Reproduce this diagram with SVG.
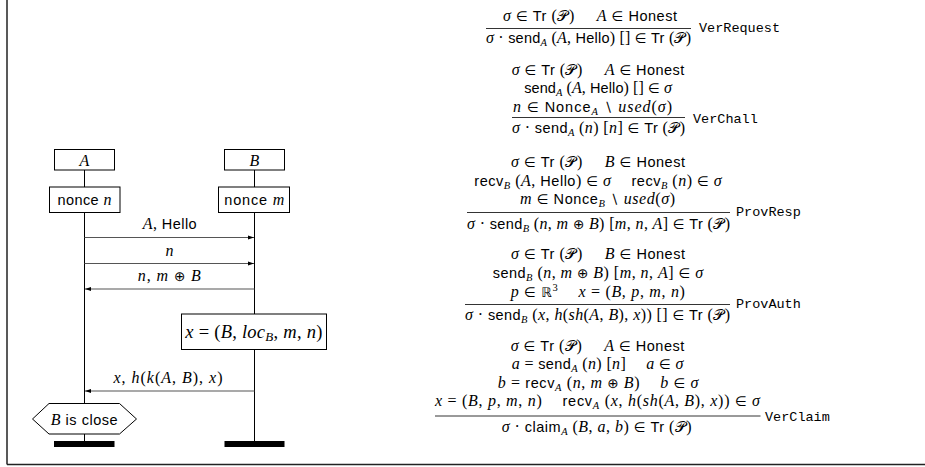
<svg xmlns="http://www.w3.org/2000/svg" width="925" height="467" viewBox="0 0 925 467">
<style>
text{font-family:"Liberation Serif","DejaVu Serif",serif;font-size:16px;fill:#000}
.c{text-anchor:middle}
.i{font-style:italic}
.s{font-family:"Liberation Sans","DejaVu Sans",sans-serif;font-style:normal;font-size:14.5px}
.y{font-family:"DejaVu Sans",sans-serif;font-size:13.5px;font-style:normal}
.p{font-family:"DejaVu Sans","Noto Sans",serif;font-style:normal;font-size:15px}
.sub{font-size:10.5px}
.lbl{font-family:"Liberation Mono",monospace;font-size:13.5px}
.big{font-size:18.5px}
.big .sub{font-size:13px}
.rule{stroke:#000;stroke-width:0.8}
.box{fill:#fff;stroke:#000;stroke-width:1}
.life{stroke:#000;stroke-width:1;fill:none}
.msg{stroke:#555;stroke-width:1.2;fill:none}
.bar{fill:#000}
</style>
<defs>
<marker id="ah" markerWidth="6" markerHeight="6" refX="6" refY="3" orient="auto" markerUnits="userSpaceOnUse">
<path d="M0,1 L6,3 L0,5 Z" fill="#000"/>
</marker>
</defs>

<g id="frame">
<line x1="7" y1="0" x2="7" y2="464.5" stroke="#222" stroke-width="1.5"/>
<line x1="7" y1="464.5" x2="925" y2="464.5" stroke="#222" stroke-width="1.5"/>
</g>

<g id="lifelines">
<line class="life" x1="84.5" y1="170" x2="84.5" y2="187"/>
<line class="life" x1="84.5" y1="212.5" x2="84.5" y2="403.5"/>
<line class="life" x1="84.5" y1="434" x2="84.5" y2="441"/>
<line class="life" x1="254.5" y1="170" x2="254.5" y2="187"/>
<line class="life" x1="254.5" y1="212.5" x2="254.5" y2="314"/>
<line class="life" x1="254.5" y1="349.5" x2="254.5" y2="441"/>
</g>

<g id="nodeA">
<rect class="box" x="54.5" y="149.5" width="60" height="20.5"/>
<text class="c i" x="84.5" y="165.5">A</text>
</g>
<g id="nodeB">
<rect class="box" x="224.5" y="149.5" width="60" height="20.5"/>
<text class="c i" x="254.5" y="165.5">B</text>
</g>
<g id="nonceN">
<rect class="box" x="49.5" y="187" width="70.5" height="25.5"/>
<text class="c" x="84.5" y="205" textLength="54"><tspan class="s">nonce</tspan> <tspan class="i">n</tspan></text>
</g>
<g id="nonceM">
<rect class="box" x="218.5" y="187" width="71" height="25.5"/>
<text class="c" x="254.3" y="205" textLength="60"><tspan class="s">nonce</tspan> <tspan class="i">m</tspan></text>
</g>
<g id="xdef">
<rect class="box" x="181.5" y="314" width="145" height="35.5"/>
<text class="c big" x="253.8" y="337.5" textLength="137"><tspan class="i">x</tspan> = (<tspan class="i">B</tspan>, <tspan class="i">loc</tspan><tspan class="i sub" dy="3.5">B</tspan><tspan dy="-3.5">, </tspan><tspan class="i">m</tspan>, <tspan class="i">n</tspan>)</text>
</g>
<g id="close">
<polygon class="box" points="32.5,419 49,403.5 119.5,403.5 136.5,419 119.5,434 49,434"/>
<text class="c" x="84.2" y="424.5" textLength="67"><tspan class="i">B</tspan> <tspan class="s">is close</tspan></text>
</g>
<g id="endA"><rect class="bar" x="54" y="441" width="60.5" height="6"/></g>
<g id="endB"><rect class="bar" x="224.5" y="441" width="60" height="6"/></g>

<g id="connectors">
<line class="msg" x1="84.5" y1="237.5" x2="254" y2="237.5" marker-end="url(#ah)"/>
<line class="msg" x1="84.5" y1="263.5" x2="254" y2="263.5" marker-end="url(#ah)"/>
<line class="msg" x1="254.5" y1="289" x2="85" y2="289" marker-end="url(#ah)"/>
<line class="msg" x1="254.5" y1="391" x2="85" y2="391" marker-end="url(#ah)"/>
<text class="c" x="169.7" y="229" textLength="54"><tspan class="i">A</tspan>, <tspan class="s">Hello</tspan></text>
<text class="c i" x="169.5" y="255.5">n</text>
<text class="c" x="169.3" y="281" textLength="63"><tspan class="i">n</tspan>, <tspan class="i">m</tspan> <tspan class="y">⊕</tspan> <tspan class="i">B</tspan></text>
<text class="c" x="168" y="383" textLength="109"><tspan class="i">x</tspan>, <tspan class="i">h</tspan>(<tspan class="i">k</tspan>(<tspan class="i">A</tspan>, <tspan class="i">B</tspan>), <tspan class="i">x</tspan>)</text>
</g>

<g id="ruleVerRequest">
<text class="c" x="590" y="21" textLength="174"><tspan class="i">σ</tspan> <tspan class="y">∈</tspan> <tspan class="s">Tr</tspan> (<tspan class="p">𝒫</tspan>)<tspan class="i" dx="22">A</tspan> <tspan class="y">∈</tspan> <tspan class="s">Honest</tspan></text>
<line class="rule" x1="486" y1="28.5" x2="691" y2="28.5"/>
<text class="c" x="588.5" y="43" textLength="205"><tspan class="i">σ</tspan> · <tspan class="s">send</tspan><tspan class="i sub" dy="3">A</tspan><tspan dy="-3"> (</tspan><tspan class="i">A</tspan>, <tspan class="s">Hello</tspan>) [] <tspan class="y">∈</tspan> <tspan class="s">Tr</tspan> (<tspan class="p">𝒫</tspan>)</text>
<text class="lbl" x="699" y="32">VerRequest</text>
</g>

<g id="ruleVerChall">
<text class="c" x="598" y="74.5" textLength="172.6"><tspan class="i">σ</tspan> <tspan class="y">∈</tspan> <tspan class="s">Tr</tspan> (<tspan class="p">𝒫</tspan>)<tspan class="i" dx="22">A</tspan> <tspan class="y">∈</tspan> <tspan class="s">Honest</tspan></text>
<text class="c" x="598" y="93" textLength="147.7"><tspan class="s">send</tspan><tspan class="i sub" dy="3">A</tspan><tspan dy="-3"> (</tspan><tspan class="i">A</tspan>, <tspan class="s">Hello</tspan>) [] <tspan class="y">∈</tspan> <tspan class="i">σ</tspan></text>
<text class="c" x="592.5" y="111.5" textLength="159"><tspan class="i">n</tspan> <tspan class="y">∈</tspan> <tspan class="s">Nonce</tspan><tspan class="i sub" dy="3">A</tspan><tspan dy="-3"> </tspan><tspan class="y">∖</tspan> <tspan class="i">used</tspan>(<tspan class="i">σ</tspan>)</text>
<line class="rule" x1="512" y1="117.5" x2="685" y2="117.5"/>
<text class="c" x="598.5" y="133" textLength="173"><tspan class="i">σ</tspan> · <tspan class="s">send</tspan><tspan class="i sub" dy="3">A</tspan><tspan dy="-3"> (</tspan><tspan class="i">n</tspan>) [<tspan class="i">n</tspan>] <tspan class="y">∈</tspan> <tspan class="s">Tr</tspan> (<tspan class="p">𝒫</tspan>)</text>
<text class="lbl" x="693" y="123">VerChall</text>
</g>

<g id="ruleProvResp">
<text class="c" x="598" y="166.5" textLength="174"><tspan class="i">σ</tspan> <tspan class="y">∈</tspan> <tspan class="s">Tr</tspan> (<tspan class="p">𝒫</tspan>)<tspan class="i" dx="22">B</tspan> <tspan class="y">∈</tspan> <tspan class="s">Honest</tspan></text>
<text class="c" x="598" y="185.5" textLength="247.4"><tspan class="s">recv</tspan><tspan class="i sub" dy="3">B</tspan><tspan dy="-3"> (</tspan><tspan class="i">A</tspan>, <tspan class="s">Hello</tspan>) <tspan class="y">∈</tspan> <tspan class="i">σ</tspan><tspan class="s" dx="20">recv</tspan><tspan class="i sub" dy="3">B</tspan><tspan dy="-3"> (</tspan><tspan class="i">n</tspan>) <tspan class="y">∈</tspan> <tspan class="i">σ</tspan></text>
<text class="c" x="597.5" y="204" textLength="155"><tspan class="i">m</tspan> <tspan class="y">∈</tspan> <tspan class="s">Nonce</tspan><tspan class="i sub" dy="3">B</tspan><tspan dy="-3"> </tspan><tspan class="y">∖</tspan> <tspan class="i">used</tspan>(<tspan class="i">σ</tspan>)</text>
<line class="rule" x1="467" y1="212.5" x2="730" y2="212.5"/>
<text class="c" x="598.5" y="228.5" textLength="263"><tspan class="i">σ</tspan> · <tspan class="s">send</tspan><tspan class="i sub" dy="3">B</tspan><tspan dy="-3"> (</tspan><tspan class="i">n</tspan>, <tspan class="i">m</tspan> <tspan class="y">⊕</tspan> <tspan class="i">B</tspan>) [<tspan class="i">m</tspan>, <tspan class="i">n</tspan>, <tspan class="i">A</tspan>] <tspan class="y">∈</tspan> <tspan class="s">Tr</tspan> (<tspan class="p">𝒫</tspan>)</text>
<text class="lbl" x="736" y="216">ProvResp</text>
</g>

<g id="ruleProvAuth">
<text class="c" x="598" y="258.5" textLength="174"><tspan class="i">σ</tspan> <tspan class="y">∈</tspan> <tspan class="s">Tr</tspan> (<tspan class="p">𝒫</tspan>)<tspan class="i" dx="22">B</tspan> <tspan class="y">∈</tspan> <tspan class="s">Honest</tspan></text>
<text class="c" x="597.9" y="277.5" textLength="210.3"><tspan class="s">send</tspan><tspan class="i sub" dy="3">B</tspan><tspan dy="-3"> (</tspan><tspan class="i">n</tspan>, <tspan class="i">m</tspan> <tspan class="y">⊕</tspan> <tspan class="i">B</tspan>) [<tspan class="i">m</tspan>, <tspan class="i">n</tspan>, <tspan class="i">A</tspan>] <tspan class="y">∈</tspan> <tspan class="i">σ</tspan></text>
<text class="c" x="597.8" y="297" textLength="174.3"><tspan class="i">p</tspan> <tspan class="y">∈</tspan> <tspan class="y">ℝ</tspan><tspan class="sub" dy="-6">3</tspan><tspan class="i" dx="20" dy="6">x</tspan> = (<tspan class="i">B</tspan>, <tspan class="i">p</tspan>, <tspan class="i">m</tspan>, <tspan class="i">n</tspan>)</text>
<line class="rule" x1="465" y1="304.5" x2="730" y2="304.5"/>
<text class="c" x="597.5" y="320" textLength="265"><tspan class="i">σ</tspan> · <tspan class="s">send</tspan><tspan class="i sub" dy="3">B</tspan><tspan dy="-3"> (</tspan><tspan class="i">x</tspan>, <tspan class="i">h</tspan>(<tspan class="i">sh</tspan>(<tspan class="i">A</tspan>, <tspan class="i">B</tspan>), <tspan class="i">x</tspan>)) [] <tspan class="y">∈</tspan> <tspan class="s">Tr</tspan> (<tspan class="p">𝒫</tspan>)</text>
<text class="lbl" x="736" y="307.5">ProvAuth</text>
</g>

<g id="ruleVerClaim">
<text class="c" x="597.5" y="350.5" textLength="173.6"><tspan class="i">σ</tspan> <tspan class="y">∈</tspan> <tspan class="s">Tr</tspan> (<tspan class="p">𝒫</tspan>)<tspan class="i" dx="22">A</tspan> <tspan class="y">∈</tspan> <tspan class="s">Honest</tspan></text>
<text class="c" x="597.5" y="369" textLength="171.6"><tspan class="i">a</tspan> = <tspan class="s">send</tspan><tspan class="i sub" dy="3">A</tspan><tspan dy="-3"> (</tspan><tspan class="i">n</tspan>) [<tspan class="i">n</tspan>]<tspan class="i" dx="20">a</tspan> <tspan class="y">∈</tspan> <tspan class="i">σ</tspan></text>
<text class="c" x="598" y="387.5" textLength="200.6"><tspan class="i">b</tspan> = <tspan class="s">recv</tspan><tspan class="i sub" dy="3">A</tspan><tspan dy="-3"> (</tspan><tspan class="i">n</tspan>, <tspan class="i">m</tspan> <tspan class="y">⊕</tspan> <tspan class="i">B</tspan>)<tspan class="i" dx="20">b</tspan> <tspan class="y">∈</tspan> <tspan class="i">σ</tspan></text>
<text class="c" x="597.5" y="406" textLength="325"><tspan class="i">x</tspan> = (<tspan class="i">B</tspan>, <tspan class="i">p</tspan>, <tspan class="i">m</tspan>, <tspan class="i">n</tspan>)<tspan class="s" dx="20">recv</tspan><tspan class="i sub" dy="3">A</tspan><tspan dy="-3"> (</tspan><tspan class="i">x</tspan>, <tspan class="i">h</tspan>(<tspan class="i">sh</tspan>(<tspan class="i">A</tspan>, <tspan class="i">B</tspan>), <tspan class="i">x</tspan>)) <tspan class="y">∈</tspan> <tspan class="i">σ</tspan></text>
<line class="rule" x1="435" y1="416" x2="760.5" y2="416"/>
<text class="c" x="596.7" y="431.5" textLength="190"><tspan class="i">σ</tspan> · <tspan class="s">claim</tspan><tspan class="i sub" dy="3">A</tspan><tspan dy="-3"> (</tspan><tspan class="i">B</tspan>, <tspan class="i">a</tspan>, <tspan class="i">b</tspan>) <tspan class="y">∈</tspan> <tspan class="s">Tr</tspan> (<tspan class="p">𝒫</tspan>)</text>
<text class="lbl" x="765" y="421">VerClaim</text>
</g>
</svg>
